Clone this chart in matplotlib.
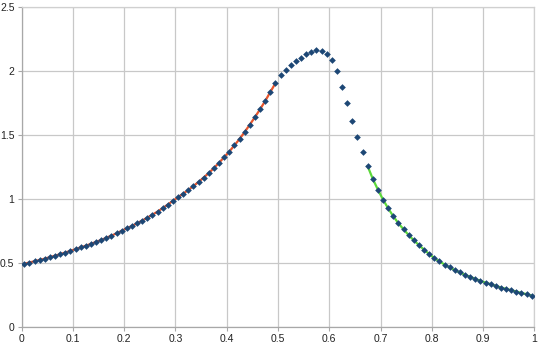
import numpy as np
import matplotlib
matplotlib.use("Agg")
import matplotlib.pyplot as plt
from matplotlib.ticker import FuncFormatter, MultipleLocator

plt.rcParams['font.family'] = ['Liberation Sans', 'DejaVu Sans']

# data: x at 0.005 .. 0.995 (step 0.01)
x = [round(0.005 + 0.01 * k, 3) for k in range(100)]
y = [
    0.492, 0.502, 0.512, 0.522, 0.532, 0.544, 0.555, 0.567, 0.580, 0.593,
    0.606, 0.620, 0.633, 0.648, 0.663, 0.678, 0.695, 0.712, 0.730, 0.750,
    0.769, 0.788, 0.808, 0.830, 0.852, 0.876, 0.900, 0.927, 0.955, 0.984,
    1.013, 1.040, 1.069, 1.100, 1.132, 1.166, 1.202, 1.241, 1.282, 1.326,
    1.370, 1.418, 1.468, 1.523, 1.580, 1.639, 1.700, 1.765, 1.835, 1.904,
    1.969, 2.008, 2.045, 2.076, 2.105, 2.133, 2.150, 2.160, 2.158, 2.134,
    2.084, 1.998, 1.878, 1.750, 1.611, 1.485, 1.363, 1.254, 1.155, 1.071,
    0.993, 0.925, 0.863, 0.808, 0.761, 0.716, 0.675, 0.638, 0.602, 0.568,
    0.536, 0.510, 0.486, 0.463, 0.442, 0.424, 0.405, 0.390, 0.374, 0.358,
    0.345, 0.332, 0.319, 0.306, 0.296, 0.285, 0.275, 0.264, 0.254, 0.243,
]
# fitted-line segments (index ranges into the data)
red_range = (0, 50)      # x 0.005 .. 0.495
green_range = (67, 100)  # x 0.675 .. 0.995

xticks = [0, 0.1, 0.2, 0.3, 0.4, 0.5, 0.6, 0.7, 0.8, 0.9, 1]
yticks = [0, 0.5, 1, 1.5, 2, 2.5]

fig = plt.figure(figsize=(5.4, 3.48), dpi=100)
ax = fig.add_axes([21.7 / 540, 21.3 / 348, (534.3 - 21.7) / 540, (341 - 21.3) / 348])

ax.plot(x[red_range[0]:red_range[1]], y[red_range[0]:red_range[1]],
        color='#e8552c', lw=1.6, zorder=3)
ax.plot(x[green_range[0]:green_range[1]], y[green_range[0]:green_range[1]],
        color='#5cd83a', lw=1.6, zorder=3)
ax.plot(x, y, linestyle='none', marker='D', markersize=3.4,
        color='#1d4775', markeredgewidth=0, zorder=4)

ax.set_xlim(0, 1)
ax.set_ylim(0, 2.5)
ax.set_xticks(xticks)
ax.set_yticks(yticks)
fmt = FuncFormatter(lambda v, p: ('%g' % v))
ax.xaxis.set_major_formatter(fmt)
ax.yaxis.set_major_formatter(fmt)
ax.grid(True, color='#c8c8c8', lw=0.9)
ax.set_axisbelow(True)
for s in ['top', 'right']:
    ax.spines[s].set_color('#d0d0d0')
    ax.spines[s].set_linewidth(0.9)
for s in ['left', 'bottom']:
    ax.spines[s].set_color('#a8a8a8')
    ax.spines[s].set_linewidth(0.9)
ax.tick_params(axis='both', length=3.2, width=0.8, color='#a8a8a8',
               labelsize=7.5, labelcolor='#222222', pad=2)

fig.savefig('out.png', dpi=100)
